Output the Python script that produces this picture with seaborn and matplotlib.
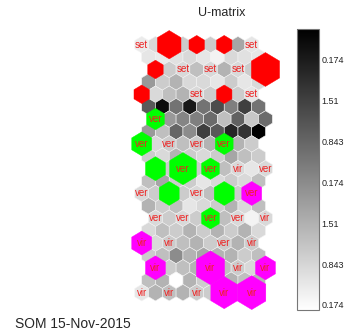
import numpy as np
import matplotlib
matplotlib.use('Agg')
import matplotlib.pyplot as plt
from matplotlib.collections import PolyCollection
from matplotlib.colors import Normalize
from matplotlib.cm import ScalarMappable
import seaborn as sns

sns.set_theme(style='white')
plt.rcParams['font.family'] = ['Liberation Sans', 'DejaVu Sans']

# U-matrix values (21 x 9), darkness 0 (white) .. 1 (black)
umat = [
    [0.08, 0.15, 0.20, 0.20, 0.20, 0.20, 0.20, 0.35, 0.10],
    [0.10, 0.08, 0.12, 0.15, 0.10, 0.05, 0.15, 0.12, 0.10],
    [0.20, 0.20, 0.15, 0.25, 0.15, 0.30, 0.15, 0.20, 0.20],
    [0.40, 0.20, 0.30, 0.15, 0.15, 0.10, 0.20, 0.10, 0.15],
    [0.20, 0.15, 0.25, 0.30, 0.15, 0.20, 0.20, 0.20, 0.10],
    [0.65, 0.95, 0.55, 0.90, 0.55, 0.70, 0.50, 0.75, 0.55],
    [0.30, 0.40, 0.48, 0.50, 0.58, 0.25, 0.62, 0.22, 0.58],
    [0.40, 0.25, 0.60, 0.45, 0.75, 0.65, 0.85, 0.80, 1.00],
    [0.20, 0.15, 0.20, 0.25, 0.20, 0.30, 0.20, 0.30, 0.20],
    [0.20, 0.15, 0.30, 0.20, 0.15, 0.20, 0.35, 0.25, 0.20],
    [0.20, 0.20, 0.20, 0.20, 0.20, 0.25, 0.15, 0.10, 0.15],
    [0.25, 0.35, 0.20, 0.20, 0.10, 0.15, 0.20, 0.15, 0.25],
    [0.15, 0.20, 0.20, 0.20, 0.15, 0.25, 0.20, 0.20, 0.20],
    [0.30, 0.20, 0.25, 0.10, 0.15, 0.20, 0.30, 0.15, 0.25],
    [0.15, 0.20, 0.15, 0.20, 0.20, 0.25, 0.15, 0.05, 0.15],
    [0.15, 0.25, 0.20, 0.30, 0.20, 0.30, 0.20, 0.30, 0.15],
    [0.20, 0.15, 0.20, 0.25, 0.30, 0.20, 0.20, 0.30, 0.20],
    [0.20, 0.25, 0.45, 0.30, 0.35, 0.30, 0.30, 0.20, 0.25],
    [0.20, 0.20, 0.25, 0.30, 0.20, 0.25, 0.20, 0.15, 0.20],
    [0.25, 0.30, 0.00, 0.30, 0.20, 0.30, 0.30, 0.25, 0.30],
    [0.10, 0.30, 0.25, 0.30, 0.20, 0.20, 0.20, 0.25, 0.20],
]

# hits per map unit (map row, map col) on the 11 x 5 map
set_units = [(0, 1), (0, 2), (0, 3), (1, 0), (1, 4), (2, 0), (2, 3)]
set_hits = [7, 3, 3, 3, 10, 3, 3]
ver_units = [(3, 0), (4, 0), (4, 3), (5, 0), (5, 1), (5, 2), (6, 1), (6, 3), (7, 2)]
ver_hits = [4, 5, 4, 5, 9, 4, 5, 5, 4]
vir_units = [(6, 4), (8, 0), (9, 0), (9, 2), (9, 4), (10, 3), (10, 4)]
vir_hits = [5, 5, 5, 10, 5, 9, 10]

# labels visible on the map (red text hidden under red hits is left out)
labels = [
    ['set', '', '', '', 'set'],
    ['', 'set', 'set', 'set', ''],
    ['', '', 'set', '', 'set'],
    ['ver', '', '', '', ''],
    ['ver', 'ver', 'ver', 'ver', ''],
    ['', 'ver', 'ver', 'vir', 'ver'],
    ['ver', '', 'ver', '', 'ver'],
    ['ver', 'ver', 'ver', 'ver', 'vir'],
    ['vir', 'vir', '', 'ver', 'vir'],
    ['vir', '', 'vir', 'vir', 'vir'],
    ['vir', 'vir', 'vir', 'vir', 'vir'],
]

cbar_labels = ['0.174', '0.843', '1.51', '0.174', '0.843', '1.51', '0.174']

ang = np.deg2rad([90, 150, 210, 270, 330, 30])
hx = 0.5 / np.cos(np.pi / 6) * np.cos(ang)
hy = 2.0 / 3.0 * np.sin(ang)


def umat_xy(r, j):
    if r % 2:
        shift = 0.5
    elif r % 4 == 2:
        shift = 1.0
    else:
        shift = 0.0
    return j + shift, -r


def hexagon(x, y, s=1.0):
    return np.column_stack([x + s * hx, y + s * hy])


fig = plt.figure(figsize=(3.52, 3.31), dpi=100)
fig.patch.set_facecolor('white')
ax = fig.add_axes([125 / 352, 21 / 331, 160 / 352, 282 / 331])

U = np.array(umat)
polys, vals = [], []
for r in range(U.shape[0]):
    for j in range(U.shape[1]):
        x, y = umat_xy(r, j)
        polys.append(hexagon(x, y))
        vals.append(U[r, j])

norm = Normalize(0, 1)
cells = PolyCollection(polys, array=np.array(vals), cmap='gray_r', norm=norm,
                       edgecolors='#f2f2f2', linewidths=0.4)
ax.add_collection(cells)

maxhits = max(set_hits + ver_hits + vir_hits)
for units, hits, col in [(set_units, set_hits, '#ff0000'),
                         (ver_units, ver_hits, '#00ff00'),
                         (vir_units, vir_hits, '#ff00ff')]:
    hp = []
    for (i, k), h in zip(units, hits):
        x, y = umat_xy(2 * i, 2 * k)
        hp.append(hexagon(x, y, 2.05 * np.sqrt(h / maxhits)))
    ax.add_collection(PolyCollection(hp, facecolors=col, edgecolors=col, linewidths=0.3))

for i, row in enumerate(labels):
    for k, lab in enumerate(row):
        if lab:
            x, y = umat_xy(2 * i, 2 * k)
            ax.text(x, y, lab, color='#ee2222', fontsize=7, ha='center', va='center')

ax.set_xlim(-1.215, 10.42)
ax.set_ylim(-21.4, 1.347)
ax.axis('off')

cax = fig.add_axes([297 / 352, 21 / 331, 22 / 352, 281 / 331])
cb = fig.colorbar(ScalarMappable(norm=norm, cmap='gray_r'), cax=cax)
cb.outline.set_edgecolor('#777777')
cb.outline.set_linewidth(0.8)
cb.set_ticks(np.linspace(0.018, 0.89, 7))
cb.set_ticklabels(cbar_labels)
cax.tick_params(axis='y', which='both', direction='in', length=2, width=0.6,
                colors='#555555', left=True, right=True, labelsize=6.5, pad=2,
                labelcolor='#222222')

fig.text(222 / 352, 1 - 13 / 331, 'U-matrix', ha='center', va='center', fontsize=9)
fig.text(15 / 352, 1 - 324 / 331, 'SOM 15-Nov-2015', ha='left', va='center', fontsize=10)

fig.savefig('out.png', dpi=100)
